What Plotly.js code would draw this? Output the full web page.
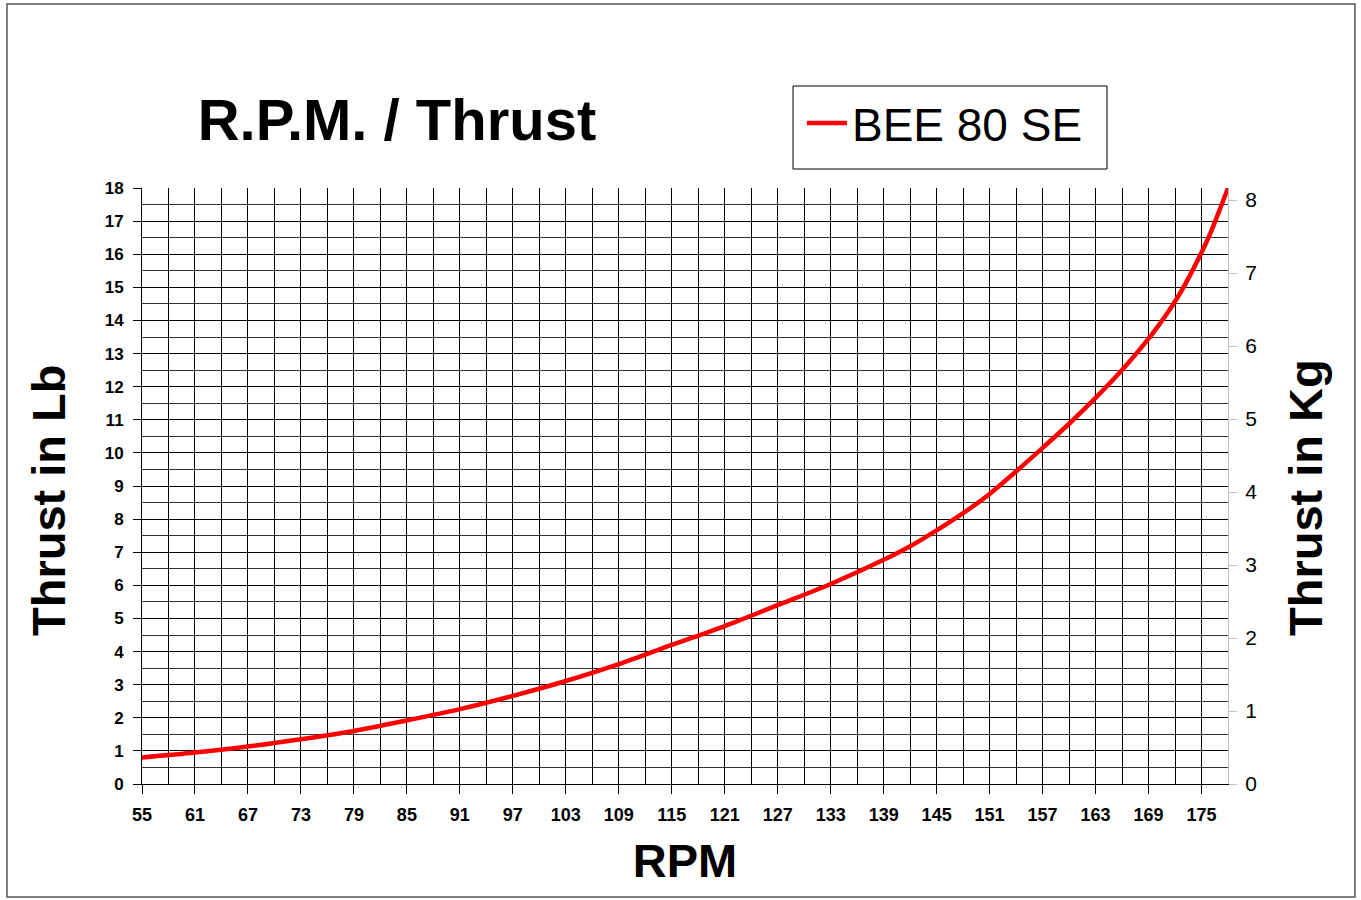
<!DOCTYPE html>
<html>
<head>
<meta charset="utf-8">
<script src="https://cdn.plot.ly/plotly-3.0.1.min.js"></script>
<style>
html,body{margin:0;padding:0;background:#fff;}
#chart{width:1361px;height:900px;}
</style>
</head>
<body>
<div id="chart"></div>
<script>
// RPM values (x) and thrust in pounds (y)
var rpm = [55, 61, 67, 73, 79, 85, 91, 97, 103, 109, 115, 121, 127, 133, 139, 142, 145, 148, 151, 154, 157, 160, 163, 166, 169, 170, 171, 172, 173, 174, 175, 176, 177, 178];
var thrustLb = [0.80, 0.95, 1.13, 1.35, 1.60, 1.92, 2.26, 2.66, 3.11, 3.62, 4.20, 4.77, 5.40, 6.04, 6.77, 7.18, 7.66, 8.18, 8.76, 9.44, 10.15, 10.88, 11.66, 12.50, 13.45, 13.80, 14.17, 14.57, 15.02, 15.52, 16.05, 16.63, 17.30, 18.00];
var seriesName = "BEE 80 SE";
var chartTitle = "R.P.M. / Thrust";
var xTitle = "RPM";
var yTitleLeft = "Thrust in Lb";
var yTitleRight = "Thrust in Kg";
var LB_TO_KG = 0.45359237;
var lbRange = [0, 18];
var kgRange = [lbRange[0] * LB_TO_KG, lbRange[1] * LB_TO_KG];
var thrustKg = thrustLb.map(function (v) { return v * LB_TO_KG; });

var FONT = "Liberation Sans, Arial, Helvetica, sans-serif";

var traces = [
  {
    x: rpm, y: thrustLb, name: seriesName, type: "scatter", mode: "lines",
    line: {color: "#ff0000", width: 4.5, shape: "spline", smoothing: 0.8},
    hoverinfo: "x+y"
  },
  {
    x: rpm, y: thrustKg, yaxis: "y2", type: "scatter", mode: "lines",
    line: {color: "rgba(0,0,0,0)", width: 0}, showlegend: false, hoverinfo: "skip"
  }
];

var layout = {
  width: 1361, height: 900,
  paper_bgcolor: "#ffffff", plot_bgcolor: "#ffffff",
  margin: {l: 142, r: 133, t: 188, b: 116, pad: 0},
  font: {family: FONT, color: "#000"},
  title: {
    text: "<b>" + chartTitle + "</b>",
    font: {family: FONT, size: 58, color: "#000"},
    x: 397 / 1361, xanchor: "center", xref: "container",
    y: 1 - 120 / 900, yanchor: "middle", yref: "container"
  },
  showlegend: true,
  legend: {
    x: 0.6077, xanchor: "left", y: 1.170, yanchor: "top",
    borderwidth: 0, bgcolor: "rgba(255,255,255,0)",
    font: {family: FONT, size: 46, color: "#000"},
    itemwidth: 40
  },
  xaxis: {
    range: [55, 178], tick0: 55, dtick: 6, tickmode: "linear",
    showgrid: true, gridcolor: "#000", gridwidth: 1,
    minor: {tick0: 55, dtick: 3, showgrid: true, gridcolor: "#000", gridwidth: 1, ticks: ""},
    showline: true, linecolor: "#000", linewidth: 1,
    ticks: "outside", ticklen: 9, tickcolor: "#000", tickwidth: 1,
    ticklabelstandoff: 5,
    tickfont: {family: FONT, size: 18, color: "#000", weight: "bold"},
    zeroline: false,
    title: {text: "<b>" + xTitle + "</b>", font: {family: FONT, size: 47, color: "#000"}, standoff: 20}
  },
  yaxis: {
    range: lbRange, tick0: 0, dtick: 1, tickmode: "linear",
    showgrid: true, gridcolor: "#000", gridwidth: 1,
    minor: {tick0: 0, dtick: 0.5, showgrid: true, gridcolor: "#333", gridwidth: 1, ticks: ""},
    showline: true, linecolor: "#000", linewidth: 1, mirror: false,
    ticks: "outside", ticklen: 8, tickcolor: "#000", tickwidth: 1,
    ticklabelstandoff: 6,
    tickfont: {family: FONT, size: 17, color: "#000", weight: "bold"},
    zeroline: false
  },
  yaxis2: {
    overlaying: "y", side: "right", range: kgRange,
    tick0: 0, dtick: 1, tickmode: "linear",
    showgrid: false, zeroline: false,
    showline: true, linecolor: "#c0c0c0", linewidth: 1,
    ticks: "outside", ticklen: 8, tickcolor: "#c0c0c0", tickwidth: 1,
    ticklabelstandoff: 4,
    tickfont: {family: FONT, size: 21, color: "#000"}
  },
  annotations: [
    {text: "<b>" + yTitleLeft + "</b>", xref: "paper", yref: "paper",
     x: (48 - 142) / 1086, y: (784 - 500) / 596, xanchor: "center", yanchor: "middle",
     textangle: -90, showarrow: false, font: {family: FONT, size: 47, color: "#000"}},
    {text: "<b>" + yTitleRight + "</b>", xref: "paper", yref: "paper",
     x: (1305 - 142) / 1086, y: (784 - 498) / 596, xanchor: "center", yanchor: "middle",
     textangle: -90, showarrow: false, font: {family: FONT, size: 47, color: "#000"}}
  ],
  shapes: [
    {type: "rect", xref: "paper", yref: "paper",
     x0: -0.1243, x1: 1.1169, y0: -0.1896, y1: 1.3087,
     line: {color: "#555", width: 1.5}, fillcolor: "rgba(0,0,0,0)", layer: "below"},
    {type: "rect", xref: "paper", yref: "paper",
     x0: (793 - 142) / 1086, x1: (1107 - 142) / 1086,
     y0: (784 - 169) / 596, y1: (784 - 86) / 596,
     line: {color: "#000", width: 1}, fillcolor: "rgba(0,0,0,0)", layer: "below"}
  ]
};

Plotly.newPlot("chart", traces, layout, {displayModeBar: false, staticPlot: true});
</script>
</body>
</html>
